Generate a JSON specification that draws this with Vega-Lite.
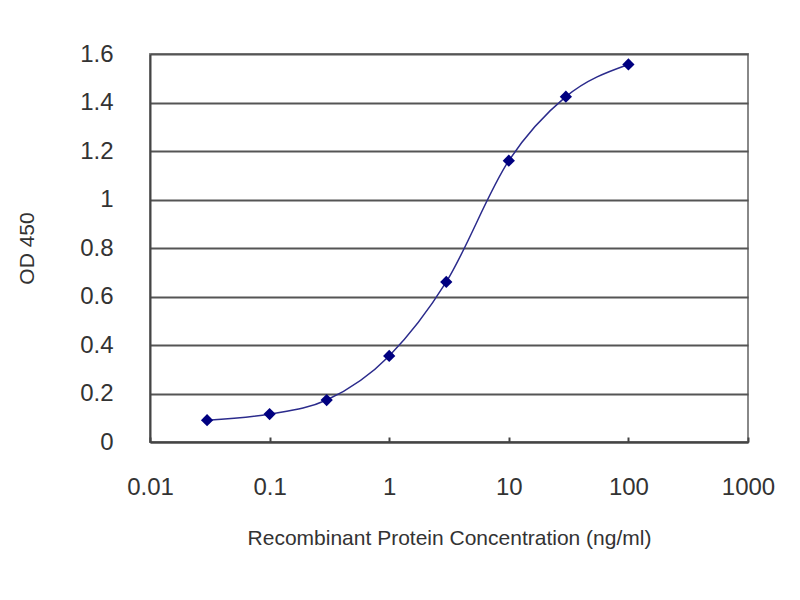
{
  "$schema": "https://vega.github.io/schema/vega-lite/v6.json",
  "width": 598,
  "height": 388,
  "autosize": {"type": "none"},
  "padding": {"left": 150, "top": 54, "right": 52, "bottom": 158},
  "background": "white",
  "data": {
    "values": [
      {"conc": 0.03, "od": 0.09},
      {"conc": 0.1, "od": 0.115},
      {"conc": 0.3, "od": 0.173},
      {"conc": 1, "od": 0.355},
      {"conc": 3, "od": 0.66},
      {"conc": 10, "od": 1.16},
      {"conc": 30, "od": 1.424},
      {"conc": 100, "od": 1.557}
    ]
  },
  "encoding": {
    "x": {
      "field": "conc",
      "type": "quantitative",
      "scale": {"type": "log", "domain": [0.01, 1000], "nice": false},
      "axis": {
        "title": "Recombinant Protein Concentration  (ng/ml)",
        "values": [0.01, 0.1, 1, 10, 100, 1000],
        "format": "~g",
        "grid": false,
        "labelFlush": false,
        "labelOverlap": false,
        "domainColor": "#444",
        "domainWidth": 2,
        "tickColor": "#444",
        "tickWidth": 2,
        "tickSize": -5,
        "labelPadding": 38,
        "labelFontSize": 24,
        "labelColor": "#333",
        "labelFont": "Liberation Sans",
        "titleFont": "Liberation Sans",
        "titleFontSize": 21,
        "titleFontWeight": "normal",
        "titleColor": "#333",
        "titleX": 299,
        "titleY": 96,
        "titleBaseline": "middle"
      }
    },
    "y": {
      "field": "od",
      "type": "quantitative",
      "scale": {"domain": [0, 1.6], "nice": false},
      "axis": {
        "title": "OD 450",
        "values": [0, 0.2, 0.4, 0.6, 0.8, 1, 1.2, 1.4, 1.6],
        "format": "~g",
        "grid": true,
        "labelFlush": false,
        "gridColor": "#555",
        "gridWidth": 2,
        "domainColor": "#444",
        "domainWidth": 2,
        "ticks": false,
        "labelPadding": 37,
        "labelFontSize": 24,
        "labelColor": "#333",
        "labelFont": "Liberation Sans",
        "titleFont": "Liberation Sans",
        "titleFontSize": 21,
        "titleFontWeight": "normal",
        "titleColor": "#333",
        "titleX": -123,
        "titleY": 194,
        "titleAngle": -90,
        "titleAlign": "center",
        "titleBaseline": "middle"
      }
    }
  },
  "layer": [
    {
      "mark": {"type": "line", "interpolate": "monotone", "color": "#2b2b8c", "strokeWidth": 1.5}
    },
    {
      "mark": {"type": "point", "shape": "diamond", "filled": true, "size": 150, "color": "#000080", "opacity": 1}
    }
  ],
  "config": {
    "view": {"stroke": "#888", "strokeWidth": 2}
  }
}
